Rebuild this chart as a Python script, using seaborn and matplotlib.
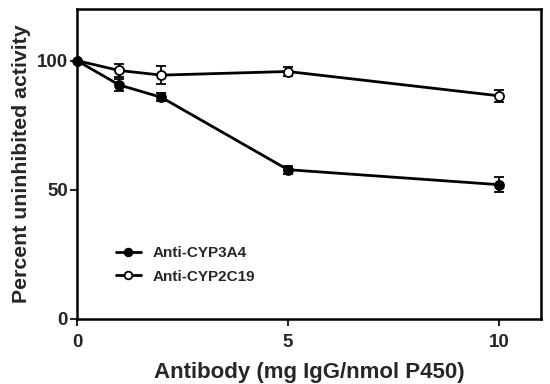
import matplotlib
matplotlib.use("Agg")
import matplotlib.pyplot as plt
import seaborn as sns
import pandas as pd

dose = [0, 1, 2, 5, 10]
cyp3a4 = [100, 90.6, 85.8, 57.8, 52.0]
cyp3a4_err = [0, 2.3, 1.6, 1.6, 3.0]
cyp2c19 = [100, 96.2, 94.4, 95.8, 86.4]
cyp2c19_err = [0, 2.5, 3.4, 1.6, 2.4]
series_names = ["Anti-CYP3A4", "Anti-CYP2C19"]

sns.set_theme(style="ticks")
plt.rcParams['font.family'] = ['Liberation Sans', 'DejaVu Sans']
plt.rcParams['font.weight'] = 'bold'

df = pd.DataFrame({
    "dose": dose * 2,
    "val": cyp3a4 + cyp2c19,
    "series": [series_names[0]] * 5 + [series_names[1]] * 5,
})

fig = plt.figure(figsize=(5.5, 3.84), dpi=100)
ax = fig.add_axes([0.14, 0.1693, 0.8436, 0.8073])

for vals, errs in [(cyp3a4, cyp3a4_err), (cyp2c19, cyp2c19_err)]:
    ax.errorbar(dose, vals, yerr=errs, fmt='none', ecolor='black', elinewidth=1.3,
                capsize=3.5, capthick=1.3, zorder=2)

sns.lineplot(data=df[df.series == series_names[0]], x="dose", y="val", ax=ax,
             color='black', linewidth=2, marker='o', markersize=6.5,
             markerfacecolor='black', markeredgecolor='black', markeredgewidth=1.3,
             label=series_names[0], zorder=3)
sns.lineplot(data=df[df.series == series_names[1]], x="dose", y="val", ax=ax,
             color='black', linewidth=2, marker='o', markersize=6.5,
             markerfacecolor='white', markeredgecolor='black', markeredgewidth=1.3,
             label=series_names[1], zorder=3)
ax.plot([dose[0]], [cyp3a4[0]], 'o', color='black', markersize=6.5, zorder=4, clip_on=False)

ax.set_xlim(0, 11)
ax.set_ylim(0, 120)
ax.set_xticks([0, 5, 10])
ax.set_yticks([0, 50, 100])
ax.tick_params(axis='both', direction='out', length=5, width=1.5, labelsize=13.5)
ax.tick_params(axis='x', pad=6)
ax.tick_params(axis='y', pad=1.5)
for lbl in ax.get_xticklabels() + ax.get_yticklabels():
    lbl.set_fontweight('bold')
for s in ax.spines.values():
    s.set_linewidth(1.8)
    s.set_color('black')

ax.set_xlabel("Antibody (mg IgG/nmol P450)", fontsize=16, fontweight='bold', labelpad=8)
ax.set_ylabel("Percent uninhibited activity", fontsize=15.3, fontweight='bold', labelpad=4)

leg = ax.legend(loc='lower left', bbox_to_anchor=(0.055, 0.07), frameon=False,
                prop={'weight': 'bold', 'size': 11}, handlelength=1.6, labelspacing=0.6,
                handletextpad=0.8, markerscale=0.85)

fig.savefig("out.png", dpi=100)
